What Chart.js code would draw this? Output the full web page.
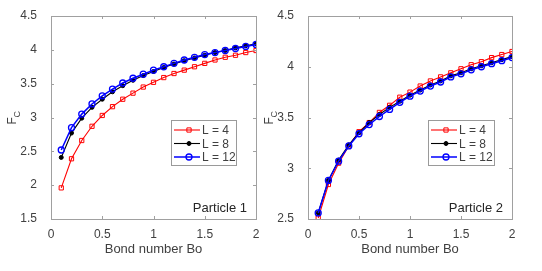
<!DOCTYPE html>
<html lang="en">
<head>
  <meta charset="UTF-8">
  <title>Critical force vs Bond number</title>
  <script src="https://cdn.jsdelivr.net/npm/chart.js"></script>
  <style>
    body { margin: 0; background: #fff; }
    .wrap { position: relative; width: 542px; height: 271px; }
    .box { position: absolute; top: 0; height: 271px; }
    #box1 { left: 0; width: 271px; }
    #box2 { left: 257px; width: 285px; }
  </style>
</head>
<body>
  <div class="wrap">
    <div class="box" id="box1"><canvas id="chart1"></canvas></div>
    <div class="box" id="box2"><canvas id="chart2"></canvas></div>
  </div>

  <script>
    // Bond numbers, 0.1 .. 2.0
    const bondNumbers = [0.1, 0.2, 0.3, 0.4, 0.5, 0.6, 0.7, 0.8, 0.9, 1.0,
                         1.1, 1.2, 1.3, 1.4, 1.5, 1.6, 1.7, 1.8, 1.9, 2.0];
    const seriesLabels = ['L = 4', 'L = 8', 'L = 12'];

    // Particle 1
    const p1L4  = [1.96, 2.39, 2.66, 2.87, 3.03, 3.16, 3.27, 3.36, 3.45, 3.52,
                   3.59, 3.65, 3.70, 3.75, 3.80, 3.85, 3.89, 3.92, 3.96, 3.99];
    const p1L8  = [2.41, 2.77, 2.99, 3.15, 3.27, 3.38, 3.47, 3.55, 3.62, 3.68,
                   3.74, 3.79, 3.84, 3.88, 3.92, 3.96, 3.99, 4.03, 4.06, 4.09];
    const p1L12 = [2.52, 2.85, 3.05, 3.20, 3.32, 3.42, 3.51, 3.58, 3.64, 3.70,
                   3.75, 3.80, 3.85, 3.89, 3.93, 3.96, 3.99, 4.02, 4.05, 4.08];

    // Particle 2
    const p2L4  = [2.51, 2.84, 3.05, 3.22, 3.36, 3.45, 3.55, 3.62, 3.70, 3.75,
                   3.81, 3.86, 3.90, 3.94, 3.98, 4.02, 4.05, 4.09, 4.12, 4.15];
    const p2L8  = [2.56, 2.88, 3.08, 3.23, 3.35, 3.45, 3.53, 3.60, 3.66, 3.72,
                   3.77, 3.82, 3.86, 3.91, 3.94, 3.98, 4.01, 4.04, 4.07, 4.10];
    const p2L12 = [2.56, 2.88, 3.07, 3.22, 3.34, 3.43, 3.51, 3.58, 3.65, 3.71,
                   3.76, 3.81, 3.85, 3.90, 3.93, 3.97, 4.00, 4.03, 4.06, 4.09];

    const xTicks = [0, 0.5, 1, 1.5, 2];
    const axisGray = '#a0a0a0';
    const textGray = '#404040';
    const fontFamily = 'Arial, "Liberation Sans", sans-serif';

    function toPoints(ys) {
      return ys.map((y, i) => ({ x: bondNumbers[i], y: y }));
    }

    function makeDatasets(l4, l8, l12) {
      return [
        { label: seriesLabels[0], data: toPoints(l4), borderColor: '#ff0000', backgroundColor: '#ff0000',
          pointBackgroundColor: 'rgba(255,255,255,0)', borderWidth: 1.1,
          pointStyle: 'rect', pointRadius: 3, pointBorderWidth: 1, order: 2 },
        { label: seriesLabels[1], data: toPoints(l8), borderColor: '#000000', backgroundColor: '#000000',
          pointBackgroundColor: '#000000', borderWidth: 1.1,
          pointStyle: 'circle', pointRadius: 2, pointBorderWidth: 1, order: 1 },
        { label: seriesLabels[2], data: toPoints(l12), borderColor: '#0000ff', backgroundColor: '#0000ff',
          pointBackgroundColor: 'rgba(255,255,255,0)', borderWidth: 1.5,
          pointStyle: 'circle', pointRadius: 3, pointBorderWidth: 1.3, order: 0 }
      ];
    }

    // MATLAB-ish box: frame, inward ticks, in-axes legend, annotation, y title with subscript
    const matlabBox = {
      id: 'matlabBox',
      afterDraw(chart, args, opts) {
        const ctx = chart.ctx;
        const a = chart.chartArea;
        const xs = chart.scales.x, ys = chart.scales.y;
        ctx.save();
        ctx.strokeStyle = axisGray;
        ctx.lineWidth = 1;
        ctx.strokeRect(Math.round(a.left) + 0.5, Math.round(a.top) + 0.5,
                       Math.round(a.right - a.left), Math.round(a.bottom - a.top));
        ctx.beginPath();
        xs.ticks.forEach(t => {
          const px = Math.round(xs.getPixelForValue(t.value)) + 0.5;
          ctx.moveTo(px, a.bottom); ctx.lineTo(px, a.bottom - 3);
          ctx.moveTo(px, a.top); ctx.lineTo(px, a.top + 3);
        });
        ys.ticks.forEach(t => {
          const py = Math.round(ys.getPixelForValue(t.value)) + 0.5;
          ctx.moveTo(a.left, py); ctx.lineTo(a.left + 3, py);
          ctx.moveTo(a.right, py); ctx.lineTo(a.right - 3, py);
        });
        ctx.stroke();

        // legend
        const lg = opts.legend;
        ctx.fillStyle = '#ffffff';
        ctx.fillRect(lg.x, lg.y, lg.w, lg.h);
        ctx.strokeStyle = '#9a9a9a';
        ctx.strokeRect(lg.x + 0.5, lg.y + 0.5, lg.w, lg.h);
        ctx.font = '12px ' + fontFamily;
        ctx.textBaseline = 'middle';
        chart.data.datasets.forEach((ds, i) => {
          const cy = lg.y + 10 + i * 13.5;
          const x0 = lg.x + 3, x1 = lg.x + 29;
          ctx.strokeStyle = ds.borderColor;
          ctx.lineWidth = ds.borderWidth;
          ctx.beginPath(); ctx.moveTo(x0, cy); ctx.lineTo(x1, cy); ctx.stroke();
          ctx.fillStyle = ds.pointBackgroundColor;
          ctx.lineWidth = ds.pointBorderWidth;
          Chart.helpers.drawPoint(ctx, {
            pointStyle: ds.pointStyle, radius: ds.pointRadius, rotation: 0,
            borderWidth: ds.pointBorderWidth
          }, (x0 + x1) / 2 + 2, cy);
          ctx.fillStyle = textGray;
          ctx.fillText(ds.label, x1 + 2, cy + 1);
        });

        // annotation
        ctx.font = '13px ' + fontFamily;
        ctx.fillStyle = '#262626';
        ctx.textAlign = 'right';
        ctx.textBaseline = 'alphabetic';
        ctx.fillText(opts.note, a.right - 9, a.bottom - 7);

        // y title F_C
        ctx.translate(opts.titleX, (a.top + a.bottom) / 2);
        ctx.rotate(-Math.PI / 2);
        ctx.fillStyle = textGray;
        ctx.textAlign = 'left';
        ctx.font = '12px ' + fontFamily;
        ctx.fillText('F', -7, 4);
        ctx.font = '9px ' + fontFamily;
        ctx.fillText('C', 0, 8);
        ctx.restore();
      }
    };

    function makeChart(id, datasets, yMin, yMax, rightPad, note, legend) {
      const ctx = document.getElementById(id).getContext('2d');
      return new Chart(ctx, {
        type: 'line',
        data: { datasets: datasets },
        options: {
          responsive: true,
          maintainAspectRatio: false,
          animation: false,
          events: [],
          layout: { padding: { top: 16, right: rightPad, left: 0, bottom: 12 } },
          plugins: {
            legend: { display: false },
            tooltip: { enabled: false },
            matlabBox: { note: note, legend: legend, titleX: 12 }
          },
          scales: {
            x: {
              type: 'linear', min: 0, max: 2,
              afterBuildTicks: s => { s.ticks = xTicks.map(v => ({ value: v })); },
              afterFit: s => { s.height = 40; },
              grid: { display: false },
              border: { display: false },
              ticks: { color: textGray, font: { size: 12, family: fontFamily }, padding: 0, maxRotation: 0,
                       callback: v => String(Math.round(v * 10) / 10) },
              title: { display: true, text: 'Bond number Bo', color: textGray,
                       font: { size: 13, family: fontFamily }, padding: { top: 0, bottom: 2 } }
            },
            y: {
              min: yMin, max: yMax,
              afterFit: s => { s.width = 51; },
              grid: { display: false },
              border: { display: false },
              ticks: { stepSize: 0.5, color: textGray, font: { size: 12, family: fontFamily }, padding: 6,
                       callback: v => String(Math.round(v * 10) / 10) }
            }
          }
        },
        plugins: [matlabBox]
      });
    }

    makeChart('chart1', makeDatasets(p1L4, p1L8, p1L12), 1.5, 4.5, 15,
              'Particle 1', { x: 171, y: 120, w: 65, h: 45 });
    makeChart('chart2', makeDatasets(p2L4, p2L8, p2L12), 2.5, 4.5, 30,
              'Particle 2', { x: 171, y: 120, w: 66, h: 45 });
  </script>
</body>
</html>
